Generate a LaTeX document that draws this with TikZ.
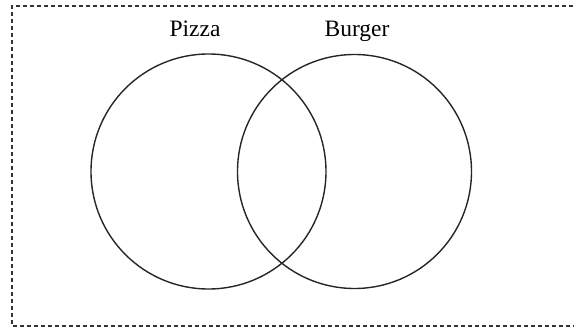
\documentclass[tikz,border=0pt]{standalone}
\usepackage{fontspec}
\setmainfont{Liberation Serif}
\begin{document}
\begin{tikzpicture}[x=1pt,y=-1pt,
  setcircle/.style={draw=black!85,line width=1.4pt},
  setlabel/.style={font=\fontsize{23.5}{27}\selectfont,anchor=base,inner sep=0pt},
  frame/.style={draw=black!80,line width=1.6pt,dash pattern=on 4pt off 3pt}]
\useasboundingbox (0,0) rectangle (574,329);
\draw[frame] (580,6) -- (12,6) -- (12,326) -- (580,326);
\node[setcircle,circle,minimum size=235pt,inner sep=0pt] (pizza) at (208.5,171.5) {};
\node[setcircle,circle,minimum size=234pt,inner sep=0pt] (burger) at (354.5,171.5) {};
\node[setlabel] (lp) at (195,37) {Pizza};
\node[setlabel] (lb) at (357,37) {Burger};
\end{tikzpicture}
\end{document}
